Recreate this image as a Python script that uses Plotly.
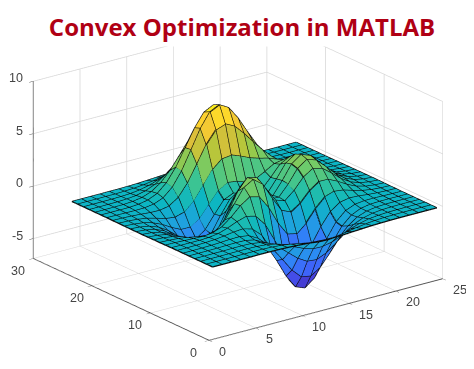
import plotly.graph_objects as go

x_grid = list(range(1, 26))
y_grid = list(range(1, 26))
z_rows = [
[0,0,0,0,0,.01,.01,0,-.03,-.07,-.13,-.19,-.24,-.24,-.22,-.16,-.11,-.06,-.03,-.01,0,0,0,0,0],
[0,0,0,0,.01,.01,0,-.03,-.10,-.22,-.39,-.56,-.68,-.70,-.61,-.46,-.30,-.17,-.08,-.03,-.01,0,0,0,0],
[0,0,0,.01,.02,.02,0,-.07,-.24,-.52,-.91,-1.30,-1.57,-1.60,-1.40,-1.06,-.69,-.38,-.18,-.08,-.03,-.01,0,0,0],
[0,0,.01,.01,.03,.04,.01,-.12,-.44,-.99,-1.74,-2.50,-3.02,-3.10,-2.72,-2.05,-1.32,-.74,-.35,-.14,-.05,-.01,0,0,0],
[0,0,.01,.02,.05,.07,.05,-.13,-.59,-1.45,-2.64,-3.88,-4.76,-4.93,-4.35,-3.27,-2.10,-1.15,-.53,-.20,-.06,-.01,0,0,0],
[0,0,.01,.03,.07,.13,.15,.02,-.47,-1.48,-3.00,-4.70,-5.98,-6.33,-5.64,-4.25,-2.69,-1.42,-.61,-.20,-.04,0,.01,0,0],
[0,0,.01,.03,.08,.19,.33,.40,.16,-.66,-2.16,-4.04,-5.65,-6.29,-5.74,-4.30,-2.63,-1.27,-.44,-.07,.04,.05,.03,.01,0],
[0,-.01,-.01,-.01,.03,.16,.45,.83,1.10,.88,-.14,-1.85,-3.61,-4.61,-4.40,-3.23,-1.74,-.56,.08,.27,.23,.13,.06,.02,.01],
[-.01,-.02,-.06,-.10,-.13,-.04,.30,.99,1.85,2.46,2.23,.99,-.73,-2.02,-2.22,-1.43,-.28,.58,.88,.77,.50,.26,.11,.04,.01],
[-.02,-.05,-.12,-.25,-.42,-.51,-.28,.49,1.78,3.09,3.63,2.94,1.40,-.01,-.41,.20,1.17,1.79,1.77,1.35,.82,.41,.17,.06,.02],
[-.02,-.08,-.20,-.44,-.80,-1.16,-1.21,-.60,.80,2.49,3.55,3.30,2.00,.70,.39,1.14,2.19,2.77,2.55,1.87,1.12,.56,.24,.09,.03],
[-.03,-.10,-.26,-.60,-1.14,-1.77,-2.16,-1.84,-.56,1.24,2.56,2.62,1.59,.52,.48,1.49,2.75,3.38,3.08,2.24,1.34,.67,.28,.10,.03],
[-.04,-.11,-.30,-.69,-1.33,-2.14,-2.77,-2.72,-1.65,.07,1.48,1.75,.98,.19,.38,1.57,2.93,3.59,3.26,2.37,1.41,.70,.30,.11,.03],
[-.03,-.11,-.29,-.67,-1.31,-2.15,-2.86,-2.98,-2.14,-.64,.68,1.06,.52,-.03,.28,1.46,2.75,3.37,3.05,2.21,1.32,.65,.28,.10,.03],
[-.03,-.09,-.25,-.57,-1.12,-1.85,-2.49,-2.64,-2.00,-.76,.39,.79,.46,.09,.38,1.34,2.37,2.84,2.55,1.84,1.09,.54,.23,.08,.02],
[-.02,-.07,-.18,-.42,-.81,-1.33,-1.76,-1.78,-1.16,-.05,1.04,1.55,1.42,1.12,1.17,1.65,2.17,2.33,1.99,1.40,.82,.40,.17,.06,.02],
[-.01,-.04,-.11,-.25,-.48,-.74,-.86,-.60,.23,1.51,2.80,3.59,3.69,3.34,2.94,2.66,2.43,2.09,1.58,1.03,.58,.28,.11,.04,.01],
[-.01,-.02,-.06,-.12,-.20,-.22,-.05,.55,1.70,3.29,4.92,6.07,6.39,5.94,5.02,3.97,2.97,2.10,1.35,.79,.41,.19,.07,.03,.01],
[0,-.01,-.02,-.03,-.01,.11,.47,1.27,2.60,4.36,6.17,7.51,7.96,7.45,6.23,4.70,3.24,2.05,1.18,.62,.29,.12,.05,.02,0],
[0,0,0,.01,.07,.24,.64,1.43,2.68,4.29,5.96,7.22,7.68,7.19,5.99,4.45,2.96,1.78,.96,.47,.21,.08,.03,.01,0],
[0,0,.01,.02,.08,.23,.55,1.16,2.10,3.31,4.56,5.50,5.86,5.49,4.57,3.37,2.21,1.30,.67,.32,.13,.05,.02,.01,0],
[0,0,.01,.02,.06,.15,.36,.74,1.32,2.07,2.84,3.43,3.65,3.43,2.84,2.09,1.36,.79,.40,.19,.08,.03,.01,0,0],
[0,0,0,.01,.03,.08,.19,.39,.69,1.07,1.46,1.77,1.88,1.76,1.47,1.07,.70,.40,.20,.09,.04,.01,0,0,0],
[0,0,0,.01,.01,.04,.09,.17,.30,.47,.64,.77,.82,.77,.64,.47,.30,.17,.09,.04,.02,.01,0,0,0],
[0,0,0,0,.01,.01,.03,.06,.11,.17,.23,.27,.29,.27,.23,.17,.11,.06,.03,.01,.01,0,0,0,0],
]
x_ticks = [0, 5, 10, 15, 20, 25]
y_ticks = [0, 10, 20, 30]
z_ticks = [-5, 0, 5, 10]
title_text = "Convex Optimization in MATLAB"
parula = [(62,38,168), (71,67,224), (62,102,250), (46,135,247), (31,162,222), (12,182,195),
          (48,194,156), (108,203,108), (174,200,59), (230,189,58), (254,211,46), (249,251,21)]
Z_LOW, Z_HIGH = -6.55, 8.1
X_RANGE, Y_RANGE, Z_RANGE = [0, 25], [0, 30], [-6.9, 10]
PLANE_LEVEL = -0.4  # the flat sheet sits just under the 0 tick in the picture

def face_colour(v):
    t = min(max((v - Z_LOW) / (Z_HIGH - Z_LOW), 0), 1) * (len(parula) - 1)
    i = min(int(t), len(parula) - 2)
    f = t - i
    r, g, b = [round(parula[i][c] + (parula[i + 1][c] - parula[i][c]) * f) for c in range(3)]
    return f"rgb({r},{g},{b})"

n = len(x_grid)
mx, my, mz, ti, tj, tk, colours = [], [], [], [], [], [], []
for r, row in enumerate(z_rows):
    for c, v in enumerate(row):
        mx.append(x_grid[c]); my.append(y_grid[r]); mz.append(v + PLANE_LEVEL)
for r in range(n - 1):
    for c in range(n - 1):
        a, b, d, e = r * n + c, r * n + c + 1, (r + 1) * n + c, (r + 1) * n + c + 1
        ti += [a, a]; tj += [b, e]; tk += [e, d]
        col = face_colour((z_rows[r][c] + z_rows[r][c + 1] + z_rows[r + 1][c] + z_rows[r + 1][c + 1]) / 4)
        colours += [col, col]

lx, ly, lz = [], [], []
for r in range(n):
    lx += x_grid + [None]; ly += [y_grid[r]] * n + [None]
    lz += [v + PLANE_LEVEL for v in z_rows[r]] + [None]
for c in range(n):
    lx += [x_grid[c]] * n + [None]; ly += y_grid + [None]
    lz += [row[c] + PLANE_LEVEL for row in z_rows] + [None]

fig = go.Figure([
    go.Mesh3d(x=mx, y=my, z=mz, i=ti, j=tj, k=tk, facecolor=colours, flatshading=True,
              hoverinfo="skip", showscale=False,
              lighting=dict(ambient=1, diffuse=0, specular=0, roughness=1, fresnel=0)),
    go.Scatter3d(x=lx, y=ly, z=lz, mode="lines", hoverinfo="skip",
                 line=dict(color="#0a0a0a", width=2.5)),
])

def axis(rng, ticks):
    return dict(range=rng, tickvals=ticks, showticklabels=False, title="",
                showbackground=False, showgrid=True, gridcolor="#d6d6d6", gridwidth=1.5,
                showline=True, linecolor="#555555", linewidth=2, zeroline=False,
                ticks="outside", ticklen=5, tickcolor="#555555", showspikes=False)

tick_font = dict(family="Liberation Sans", size=12.5, color="#454545")
labels = []
for t in x_ticks:
    labels.append(dict(x=t, y=Y_RANGE[0], z=Z_RANGE[0], text=str(t), showarrow=False, font=tick_font,
                       xanchor="left", yanchor="middle", xshift=8, yshift=-11))
for t in y_ticks:
    labels.append(dict(x=X_RANGE[0], y=t, z=Z_RANGE[0], text=str(t), showarrow=False, font=tick_font,
                       xanchor="center", yanchor="middle", xshift=-15, yshift=-12))
for t in z_ticks:
    labels.append(dict(x=X_RANGE[0], y=Y_RANGE[1], z=t, text=str(t), showarrow=False, font=tick_font,
                       xanchor="right", yanchor="middle", xshift=-8, yshift=3))

fig.update_layout(
    width=474, height=369, margin=dict(l=0, r=0, t=0, b=0),
    paper_bgcolor="white", showlegend=False,
    scene=dict(
        domain=dict(x=[0, 0.97], y=[0.067, 1]),
        xaxis=axis(X_RANGE, x_ticks), yaxis=axis(Y_RANGE, y_ticks), zaxis=axis(Z_RANGE, z_ticks),
        aspectmode="manual", aspectratio=dict(x=1.70, y=1.70, z=1.10),
        camera=dict(projection=dict(type="orthographic"),
                    eye=dict(x=-1.125, y=-1.495, z=0.70), center=dict(x=0, y=0, z=0),
                    up=dict(x=0, y=0, z=1)),
        annotations=labels,
    ),
    annotations=[dict(text=f"<b>{title_text}</b>", xref="paper", yref="paper", x=0.5, y=1,
                      xanchor="center", yanchor="top", xshift=-3, yshift=3, showarrow=False, width=480, height=38,
                      bgcolor="white", font=dict(family="Open Sans", size=24, color="#b00014"))],
)
fig.write_html("out.html")
